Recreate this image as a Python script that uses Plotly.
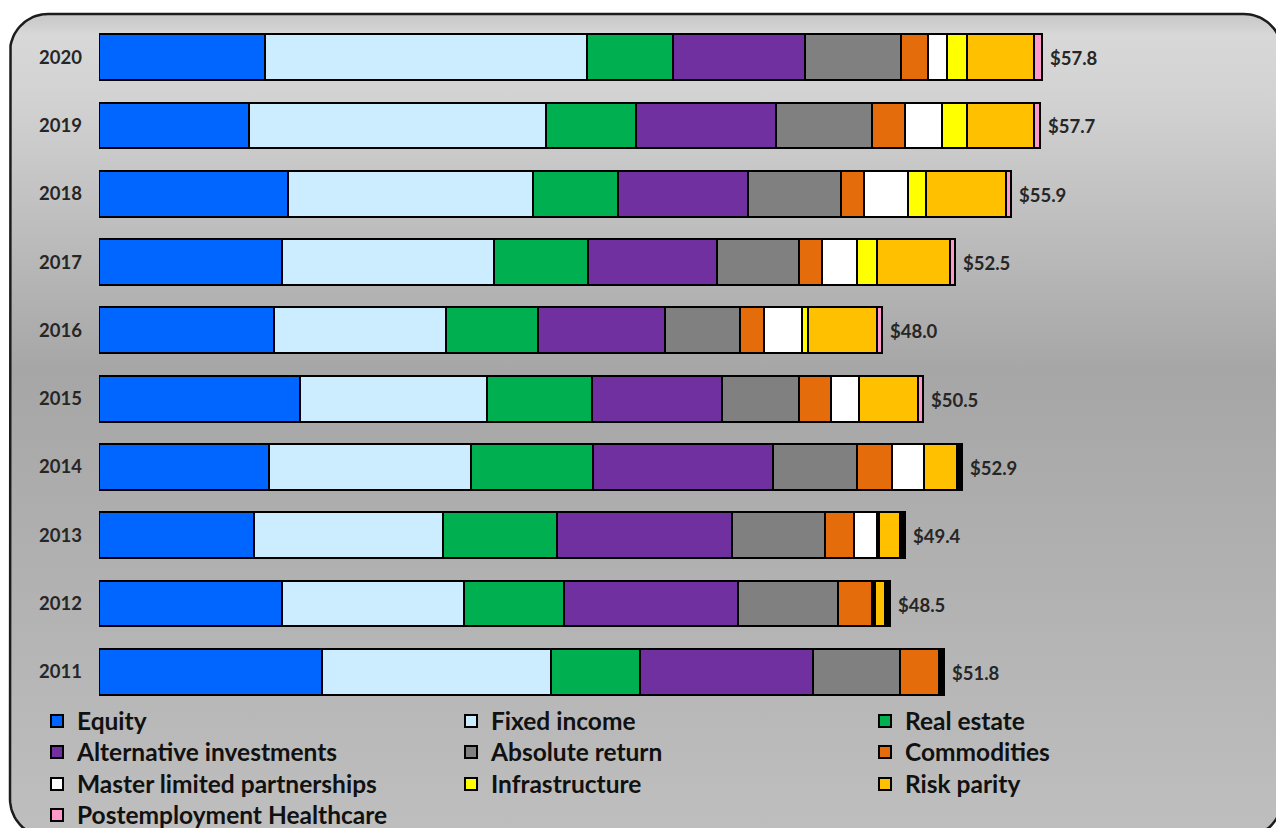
import numpy as np
import plotly.graph_objects as go

# ---- data (billions of dollars) ----
years = ["2020", "2019", "2018", "2017", "2016", "2015", "2014", "2013", "2012", "2011"]

equity           = [10.2, 9.2, 11.6, 11.2, 10.7, 12.3, 10.4, 9.5, 11.2, 13.7]
fixed_income     = [19.7, 18.2, 15.0, 13.0, 10.6, 11.5, 12.4, 11.6, 11.2, 14.0]
real_estate      = [5.3, 5.5, 5.2, 5.8, 5.6, 6.4, 7.5, 7.0, 6.1, 5.5]
alternative      = [8.1, 8.6, 8.0, 7.9, 7.8, 8.0, 11.0, 10.7, 10.7, 10.6]
absolute_return  = [5.9, 5.9, 5.7, 5.0, 4.6, 4.7, 5.2, 5.7, 6.1, 5.3]
commodities      = [1.6, 2.0, 1.4, 1.4, 1.5, 2.0, 2.1, 1.8, 2.1, 2.4]
mlp              = [1.2, 2.3, 2.7, 2.2, 2.3, 1.7, 2.0, 1.4, 0.1, 0.0]
infrastructure   = [1.2, 1.5, 1.1, 1.2, 0.4, 0.0, 0.0, 0.1, 0.1, 0.0]
risk_parity      = [4.1, 4.1, 4.9, 4.5, 4.2, 3.6, 2.0, 1.3, 0.6, 0.0]
healthcare       = [0.5, 0.4, 0.3, 0.3, 0.3, 0.3, 0.3, 0.3, 0.3, 0.3]

series = [
    ("Equity", equity, "#0066FF"),
    ("Fixed income", fixed_income, "#CCECFF"),
    ("Real estate", real_estate, "#00B050"),
    ("Alternative investments", alternative, "#7030A0"),
    ("Absolute return", absolute_return, "#808080"),
    ("Commodities", commodities, "#E46C0A"),
    ("Master limited partnerships", mlp, "#FFFFFF"),
    ("Infrastructure", infrastructure, "#FFFF00"),
    ("Risk parity", risk_parity, "#FFC000"),
    ("Postemployment Healthcare", healthcare, "#FF99CC"),
]

totals = np.sum([s[1] for s in series], axis=0)

FONT = "Lato"
TEXT = "#262626"
W, H = 1276, 828
PX_PER_UNIT = 16.31          # horizontal scale of the bar axis
PLOT_L, PLOT_R = 99, 1180    # bar plot area, pixels
PLOT_T, PLOT_B = 23, 706


def fy(y_px):
    """Paper fraction for a vertical pixel position measured from the top."""
    return 1 - y_px / H


fig = go.Figure()

# ---- rounded, gradient-filled backdrop panel (pixel coordinates on x/y) ----
def rounded_rect(x0, y0, x1, y1, r, n=20):
    pts = []
    corners = [
        (x1 - r, y1 - r, 90, 0),     # top-right
        (x1 - r, y0 + r, 0, -90),    # bottom-right
        (x0 + r, y0 + r, -90, -180), # bottom-left
        (x0 + r, y1 - r, 180, 90),   # top-left
    ]
    for cx, cy, a0, a1 in corners:
        for a in np.linspace(np.radians(a0), np.radians(a1), n):
            pts.append((cx + r * np.cos(a), cy + r * np.sin(a)))
    pts.append(pts[0])
    xs, ys = zip(*pts)
    return list(xs), list(ys)

pl, pr, pt, pb = 10, 1282, 14, 837
px, py = rounded_rect(pl, H - pb, pr, H - pt, 38)
fig.add_trace(go.Scatter(
    x=px, y=py, mode="lines", fill="toself",
    line=dict(color="#1c1c1c", width=2.5),
    fillgradient=dict(
        type="vertical", start=H - pb, stop=H - pt,
        colorscale=[[0.0, "#bebebe"], [0.045, "#bdbdbd"], [0.567, "#a6a6a6"],
                    [0.8955, "#d2d2d2"], [0.975, "#d8d8d8"], [0.99, "#cdcdcd"],
                    [1.0, "#c8c8c8"]],
    ),
    hoverinfo="skip", showlegend=False, xaxis="x", yaxis="y",
))

# ---- stacked horizontal bars ----
for i, (name, vals, color) in enumerate(series):
    colors = color
    if name == "Postemployment Healthcare":
        # slivers too thin to show their fill read as black caps in early years
        colors = [color if int(y) >= 2015 else "#000000" for y in years]
    row = i // 3
    fig.add_trace(go.Bar(
        y=years, x=vals, name=name, orientation="h",
        marker=dict(color=colors, line=dict(color="#000000", width=2)),
        xaxis="x2", yaxis="y2",
        legend="legend" if row == 0 else f"legend{row + 1}",
        legendwidth=300 if i % 3 == 2 else None,
        hovertemplate=name + ": $%{x:.1f}B<extra>%{y}</extra>",
    ))

# ---- total labels at bar ends (category index keeps year names unambiguous) ----
for idx, t in enumerate(totals):
    fig.add_annotation(
        x=t, y=idx, xref="x2", yref="y2", text=f"${t:.1f}",
        showarrow=False, xanchor="left", xshift=6, yshift=-1,
        font=dict(family=FONT, size=18.5, color=TEXT, weight="bold"),
    )

legend_style = dict(
    orientation="h", xanchor="left", yanchor="middle",
    x=37 / W, entrywidth=369, entrywidthmode="pixels",
    bgcolor="rgba(0,0,0,0)", borderwidth=0,
    font=dict(family=FONT, size=24.5, color="#111111", weight="bold"),
    traceorder="normal", itemclick=False, itemdoubleclick=False,
)
legend_rows = [721, 752, 784, 815]

fig.update_layout(
    width=W, height=H,
    margin=dict(l=0, r=0, t=0, b=0, autoexpand=False),
    paper_bgcolor="#ffffff", plot_bgcolor="rgba(0,0,0,0)",
    barmode="stack", bargap=0.33,
    showlegend=True,
    legend=dict(y=fy(legend_rows[0]), **legend_style),
    legend2=dict(y=fy(legend_rows[1]), **legend_style),
    legend3=dict(y=fy(legend_rows[2]), **legend_style),
    legend4=dict(y=fy(legend_rows[3]), **legend_style),
    xaxis=dict(domain=[0, 1], range=[0, W], visible=False, fixedrange=True),
    yaxis=dict(domain=[0, 1], range=[0, H], visible=False, fixedrange=True),
    xaxis2=dict(
        domain=[PLOT_L / W, PLOT_R / W], anchor="y2",
        range=[0, (PLOT_R - PLOT_L) / PX_PER_UNIT],
        showgrid=False, zeroline=False, showticklabels=False, ticks="",
        fixedrange=True,
    ),
    yaxis2=dict(
        domain=[fy(PLOT_B), fy(PLOT_T)], anchor="x2",
        type="category", range=[len(years) - 0.5, -0.5],
        showgrid=False, zeroline=False, ticks="", showline=False,
        ticklabelstandoff=16,
        tickfont=dict(family=FONT, size=18.5, color=TEXT, weight="bold"),
        fixedrange=True,
    ),
)

fig.write_html("out.html")
